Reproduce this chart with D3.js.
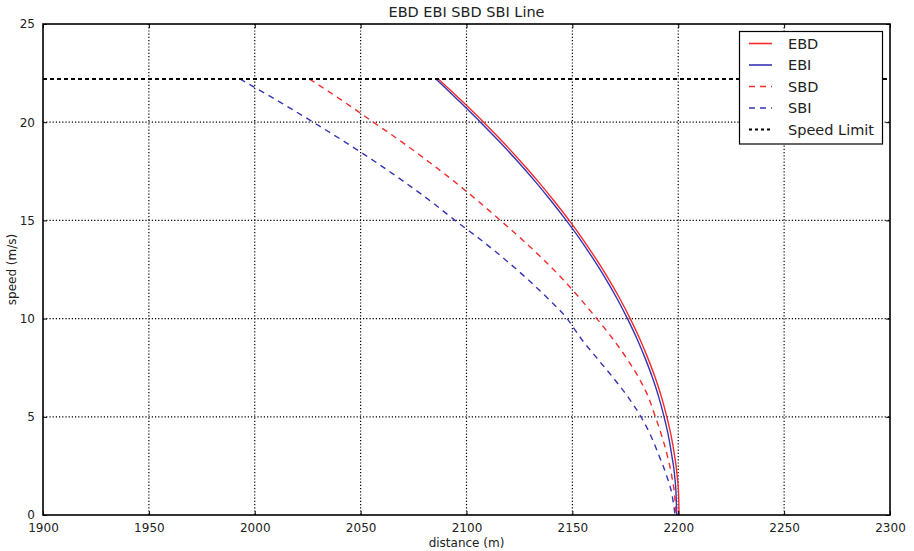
<!DOCTYPE html>
<html>
<head>
<meta charset="utf-8">
<script src="https://cdn.jsdelivr.net/npm/d3@7"></script>
<style>
  html, body { margin: 0; padding: 0; background: #fff; }
  svg { display: block; font-family: "DejaVu Sans", sans-serif; }
</style>
</head>
<body>
<svg id="chart" width="914" height="551"></svg>
<script>
// ---------- data ----------
const titleText = "EBD EBI SBD SBI Line";
const xLabel = "distance (m)";
const yLabel = "speed (m/s)";
const xTicks = [1900, 1950, 2000, 2050, 2100, 2150, 2200, 2250, 2300];
const yTicks = [0, 5, 10, 15, 20, 25];
const speedLimit = 22.2;

const speedSteps = [22.2, 21, 20, 19, 18, 17, 16, 15, 14, 13, 12, 11, 10, 9, 8, 7, 6, 5, 4, 3, 2, 1, 0];
const ebdDist = [2086.7, 2098.6, 2108.1, 2117.1, 2125.6, 2133.7, 2141.3, 2148.5, 2155.2, 2161.4, 2167.2, 2172.5, 2177.3, 2181.7, 2185.6, 2189.1, 2192.1, 2194.6, 2196.7, 2198.3, 2199.5, 2200.2, 2200.4];
const ebiDist = [2085.6, 2097.2, 2106.6, 2115.6, 2124.2, 2132.3, 2139.9, 2147.1, 2153.9, 2160.1, 2165.9, 2171.2, 2176.0, 2180.4, 2184.3, 2187.8, 2190.8, 2193.3, 2195.4, 2197.0, 2198.3, 2199.0, 2199.3];
const sbdDist = [2025.8, 2042.7, 2056.0, 2069.4, 2082.0, 2094.0, 2105.3, 2116.0, 2126.5, 2136.4, 2145.5, 2153.8, 2161.5, 2168.9, 2175.5, 2181.3, 2185.9, 2189.2, 2192.3, 2194.9, 2196.9, 2198.3, 2199.0];
const sbiDist = [1993.0, 2012.3, 2027.6, 2042.5, 2056.7, 2070.1, 2082.8, 2094.6, 2106.9, 2118.3, 2128.9, 2138.7, 2147.5, 2154.0, 2161.5, 2169.2, 2176.3, 2182.4, 2187.2, 2191.0, 2194.5, 2197.1, 2198.5];

const seriesNames = ["EBD", "EBI", "SBD", "SBI", "Speed Limit"];
const seriesColors = ["#f52a2a", "#3535b5", "#f52a2a", "#3535b5", "#000000"];
const seriesDash = [null, null, "6,5", "6,5", "3,3"];

// ---------- layout ----------
const svg = d3.select("#chart");
const L = 43, R = 890, T = 24, B = 515;
const x = d3.scaleLinear().domain([1900, 2300]).range([L, R]);
const y = d3.scaleLinear().domain([0, 25]).range([B, T]);

// grid
const grid = svg.append("g");
grid.selectAll("line.gx").data(xTicks.slice(1, -1)).join("line")
  .attr("x1", d => x(d)).attr("x2", d => x(d)).attr("y1", T).attr("y2", B)
  .attr("stroke", "#000").attr("stroke-width", 1.2).attr("stroke-dasharray", "1.2,2");
grid.selectAll("line.gy").data(yTicks.slice(1, -1)).join("line")
  .attr("y1", d => y(d)).attr("y2", d => y(d)).attr("x1", L).attr("x2", R)
  .attr("stroke", "#000").attr("stroke-width", 1.2).attr("stroke-dasharray", "1.2,2");

// curves
const line = d3.line().x(d => x(d[0])).y(d => y(d[1])).curve(d3.curveMonotoneX);
const series = [ebdDist, ebiDist, sbdDist, sbiDist].map(arr => arr.map((d, i) => [d, speedSteps[i]]));
series.forEach((s, i) => {
  svg.append("path").datum(s).attr("d", line)
    .attr("fill", "none").attr("stroke", seriesColors[i]).attr("stroke-width", 1.4)
    .attr("stroke-dasharray", seriesDash[i]);
});
// speed limit line
svg.append("line")
  .attr("x1", x(1900)).attr("x2", x(2300)).attr("y1", y(speedLimit)).attr("y2", y(speedLimit))
  .attr("stroke", "#000").attr("stroke-width", 2).attr("stroke-dasharray", "4,3");

// axes (ticks inward)
const fontSize = 12;
const fmt = d3.format("d");
const xAxisB = d3.axisBottom(x).tickValues(xTicks).tickFormat(fmt).tickSizeInner(-4).tickSizeOuter(0).tickPadding(8);
const xAxisT = d3.axisTop(x).tickValues(xTicks).tickSizeInner(-4).tickSizeOuter(0).tickFormat("");
const yAxisL = d3.axisLeft(y).tickValues(yTicks).tickFormat(fmt).tickSizeInner(-4).tickSizeOuter(0).tickPadding(8);
const yAxisR = d3.axisRight(y).tickValues(yTicks).tickSizeInner(-4).tickSizeOuter(0).tickFormat("");

function style(g) {
  g.select(".domain").remove();
  g.selectAll(".tick line").attr("stroke", "#000").attr("stroke-width", 1);
  g.selectAll(".tick text").attr("fill", "#222").style("font-size", fontSize + "px")
    .style("font-family", "'DejaVu Sans', sans-serif");
}
svg.append("g").attr("transform", `translate(0,${B})`).call(xAxisB).call(style);
svg.append("g").attr("transform", `translate(0,${T})`).call(xAxisT).call(style);
svg.append("g").attr("transform", `translate(${L},0)`).call(yAxisL).call(style);
svg.append("g").attr("transform", `translate(${R},0)`).call(yAxisR).call(style);

// frame
svg.append("rect").attr("x", L).attr("y", T).attr("width", R - L).attr("height", B - T)
  .attr("fill", "none").attr("stroke", "#000").attr("stroke-width", 1.6);

// title & labels
svg.append("text").attr("x", (L + R) / 2).attr("y", 17).attr("text-anchor", "middle")
  .attr("fill", "#222").style("font-size", "14.5px").text(titleText);
svg.append("text").attr("x", (L + R) / 2).attr("y", 547).attr("text-anchor", "middle")
  .attr("fill", "#222").style("font-size", "12px").text(xLabel);
svg.append("text").attr("transform", `translate(16,${(T + B) / 2}) rotate(-90)`)
  .attr("text-anchor", "middle").attr("fill", "#222").style("font-size", "12px").text(yLabel);

// legend
const lg = svg.append("g");
lg.append("rect").attr("x", 739.5).attr("y", 31.5).attr("width", 143).attr("height", 112.5)
  .attr("fill", "#fff").attr("stroke", "#000").attr("stroke-width", 1.2);
seriesNames.forEach((name, i) => {
  const yy = 43.5 + i * 21.5;
  lg.append("line").attr("x1", 749).attr("x2", 772).attr("y1", yy).attr("y2", yy)
    .attr("stroke", seriesColors[i]).attr("stroke-width", i === 4 ? 2 : 1.6)
    .attr("stroke-dasharray", seriesDash[i]);
  lg.append("text").attr("x", 788).attr("y", yy + 5).attr("fill", "#222")
    .style("font-size", "14.5px").text(name);
});
</script>
</body>
</html>
